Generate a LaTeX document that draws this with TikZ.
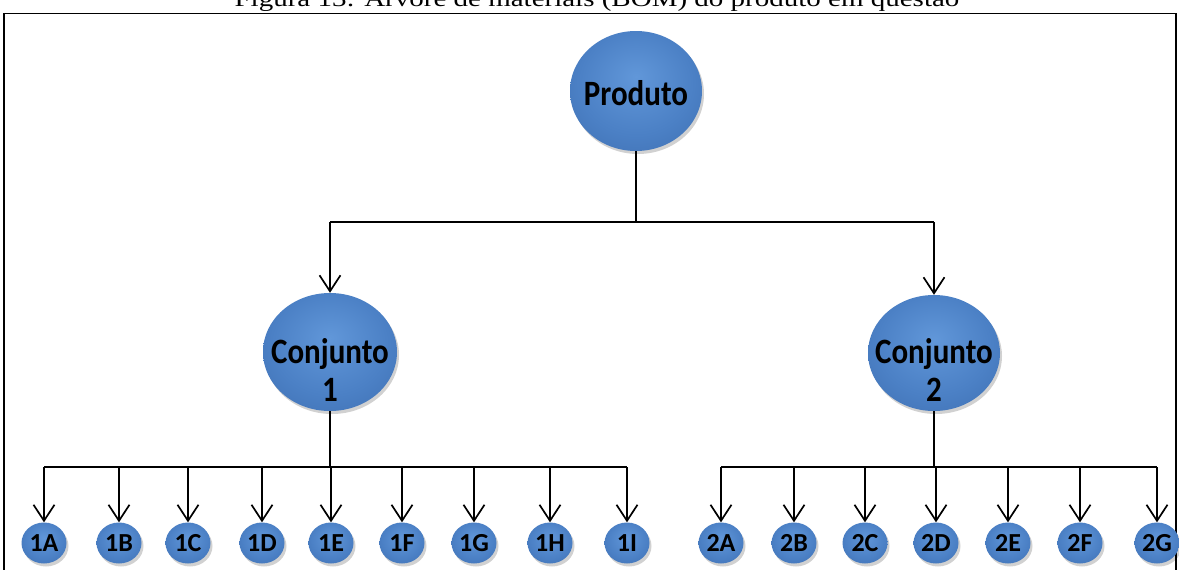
\documentclass[tikz,border=0pt]{standalone}
\usepackage{fontspec}
\setmainfont{Carlito}
\newfontfamily\tnr{Liberation Serif}
\usetikzlibrary{arrows.meta}
\definecolor{bla}{HTML}{6197D9}
\definecolor{blb}{HTML}{4B80C5}
\definecolor{blc}{HTML}{3C6CAE}
\definecolor{bld}{HTML}{22457A}
\pgfdeclareradialshading{bluesph}{\pgfpoint{0bp}{6bp}}{%
  color(0bp)=(bla); color(22bp)=(blb); color(40bp)=(blc); color(48bp)=(bld); color(54bp)=(bld)}
\tikzset{
  conn/.style={line width=1.7pt, draw=black},
  arr/.style={conn, -{Straight Barb[length=16pt, width=21pt, line width=1.7pt]}},
  anchorbox/.style={rectangle, inner sep=0pt, draw=none},
  bigtxt/.style={font=\bfseries\fontsize{31}{29}\selectfont, align=center, inner sep=0pt},
  smalltxt/.style={font=\bfseries\fontsize{26}{28}\selectfont, inner sep=0pt},
}
\newcommand{\myball}[5]{% name, x, y, rx, ry
  \fill[black, opacity=0.18] (#2+2,#3+3) ellipse [x radius=#4, y radius=#5];
  \shade[shading=bluesph] (#2,#3) ellipse [x radius=#4, y radius=#5];
  \node[anchorbox, minimum width=2*#4 pt, minimum height=2*#5 pt] (#1) at (#2,#3) {};
}
\newcommand{\tall}[1]{\scalebox{1}[1.15]{#1}}
\begin{document}
\begin{tikzpicture}[x=1pt,y=-1pt]
\useasboundingbox (0,0) rectangle (1179,570);
\fill[white] (0,0) rectangle (1179,570);
% title (cut off at top, as in the reference)
\node[inner sep=0pt, anchor=base] (title) at (597,6) {\scalebox{1}[0.8]{\tnr\fontsize{29}{32}\selectfont Figura 13: Árvore de materiais (BOM) do produto em questão}};
% frame
\draw[line width=1.8pt] (4,600) -- (4,13.5) -- (1176,13.5) -- (1176,600);
% top
\myball{prod}{636}{91}{66}{60}
\node[bigtxt] (prodt) at (636,93) {\tall{Produto}};
\myball{c1}{330}{352}{67}{59}
\node[bigtxt] (c1t) at (330,370) {\tall{Conjunto}\\[7pt]\tall{1}};
\myball{c2}{934}{353}{66}{58}
\node[bigtxt] (c2t) at (934,370) {\tall{Conjunto}\\[7pt]\tall{2}};
% leaves
\foreach \n/\x in {1A/44,1B/119,1C/188,1D/262,1E/331,1F/402,1G/474,1H/550,1I/627,
                   2A/721,2B/794,2C/865,2D/936,2E/1008,2F/1080,2G/1157}{
  \myball{l\n}{\x}{543}{22.5}{20.5}
  \node[smalltxt] (t\n) at (\x,543) {\n};
}
% connectors
\coordinate (j0) at (636,222);
\coordinate (j1) at (330,467);
\coordinate (j2) at (934,467);
\draw[conn] (prod.south) -- (j0);
\draw[conn] (c1 |- j0) -- (c2 |- j0);
\draw[arr] (c1 |- j0) -- (c1.north);
\draw[arr] (c2 |- j0) -- (c2.north);
\draw[conn] (c1.south) -- (j1);
\draw[conn] (l1A |- j1) -- (l1I |- j1);
\foreach \n in {1A,1B,1C,1D,1E,1F,1G,1H,1I}{
  \draw[arr] (l\n |- j1) -- (l\n.north);
}
\draw[conn] (c2.south) -- (j2);
\draw[conn] (l2A |- j2) -- (l2G |- j2);
\foreach \n in {2A,2B,2C,2D,2E,2F,2G}{
  \draw[arr] (l\n |- j2) -- (l\n.north);
}
\end{tikzpicture}
\end{document}
